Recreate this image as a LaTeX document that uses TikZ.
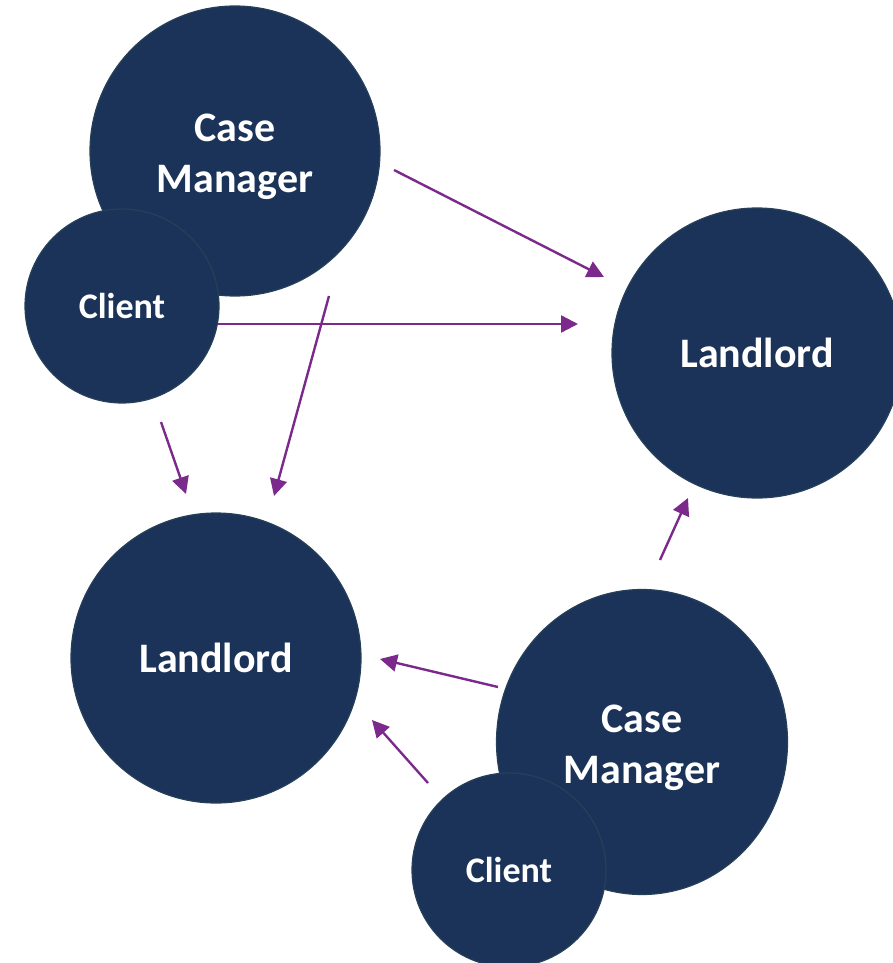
\documentclass[tikz,border=0pt]{standalone}
\usepackage{fontspec}
\setmainfont{Carlito}
\usetikzlibrary{arrows.meta,shapes.geometric}
\definecolor{navy}{HTML}{1B3358}
\definecolor{rim}{HTML}{27405A}
\definecolor{plum}{HTML}{7B2A8C}
% extra height on a first line, to lower a two-line label a little
\newcommand{\lowerstrut}{\rule{0pt}{40pt}}
\tikzset{
  party/.style={fill=navy, draw=rim, line width=1.2pt, text=white,
    font=\bfseries\fontsize{42}{51}\selectfont, align=center, inner sep=0pt},
  big/.style={party, circle, minimum size=290pt},
  small/.style={party, circle, minimum size=194pt, font=\bfseries\fontsize{36}{42}\selectfont},
  link/.style={draw=plum, line width=2.4pt, -{Triangle[length=17pt,width=17pt]}}
}
\begin{document}
\begin{tikzpicture}[x=1pt,y=-1pt]
  \useasboundingbox (0,0) rectangle (892,963);
  % upper group
  \node[big] (cmA) at (235,151) {\lowerstrut Case\\Manager};
  \node[small] (clA) at (122,306) {Client};
  % right landlord
  \node[big] (llR) at (757,353) {Landlord};
  % left landlord
  \node[big] (llL) at (216,658) {Landlord};
  % lower group
  \node[party, ellipse, minimum width=291pt, minimum height=305pt] (cmB) at (642,742) {\lowerstrut Case\\Manager};
  \node[small] (clB) at (509,870) {Client};

  % connector ends
  \coordinate (a1) at (394,170); \coordinate (b1) at (604,277);
  \coordinate (a2) at (218,324); \coordinate (b2) at (578,324);
  \coordinate (a3) at (329,296); \coordinate (b3) at (274,496);
  \coordinate (a4) at (161,422); \coordinate (b4) at (186,494);
  \coordinate (a5) at (660,560); \coordinate (b5) at (688,498);
  \coordinate (a6) at (498,687); \coordinate (b6) at (380,659);
  \coordinate (a7) at (428,783); \coordinate (b7) at (372,720);

  \draw[link] (a1) -- (b1);
  \draw[link] (a2) -- (b2);
  \draw[link] (a3) -- (b3);
  \draw[link] (a4) -- (b4);
  \draw[link] (a5) -- (b5);
  \draw[link] (a6) -- (b6);
  \draw[link] (a7) -- (b7);
\end{tikzpicture}
\end{document}
